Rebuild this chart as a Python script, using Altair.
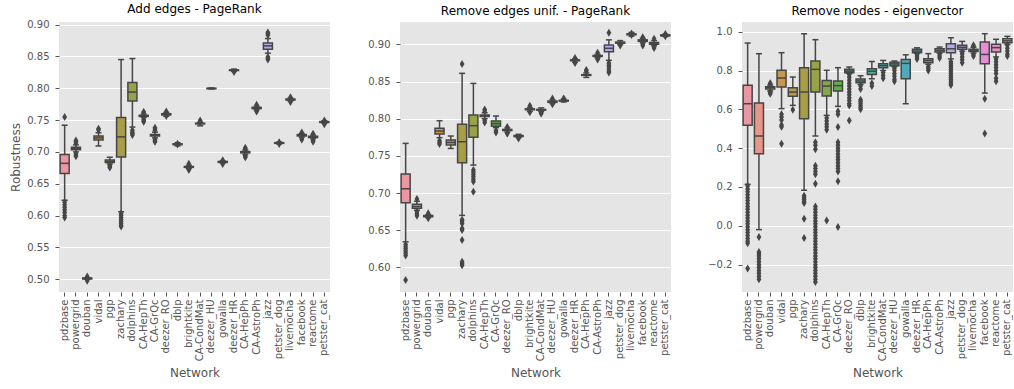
import colorsys
import math

import altair as alt
import pandas as pd

networks = ["pdzbase", "powergrid", "douban", "vidal", "pgp", "zachary", "dolphins",
            "CA-HepTh", "CA-GrQc", "deezer_RO", "dblp", "brightkite", "CA-CondMat",
            "deezer_HU", "gowalla", "deezer_HR", "CA-HepPh", "CA-AstroPh", "jazz",
            "petster_dog", "livemocha", "facebook", "reactome", "petster_cat"]

# ---- Add edges - PageRank: whisker ends, quartiles, median, outliers ----
add_lo = [0.624, 0.700, 0.5000, 0.7094, 0.681, 0.606, 0.739, 0.7540, 0.722, 0.7560, 0.7095, 0.6740,
          0.7410, 0.7988, 0.6825, 0.8265, 0.6960, 0.7660, 0.855, 0.7125, 0.7800, 0.7230, 0.7205, 0.7450]
add_q1 = [0.666, 0.7035, 0.5005, 0.7188, 0.6832, 0.692, 0.780, 0.7558, 0.725, 0.7580, 0.7113, 0.6757,
          0.7440, 0.7993, 0.6835, 0.8278, 0.6985, 0.7680, 0.8613, 0.7135, 0.7815, 0.7250, 0.7225, 0.7463]
add_med = [0.682, 0.7055, 0.5012, 0.722, 0.685, 0.7236, 0.794, 0.7566, 0.7262, 0.7590, 0.7120, 0.6764,
           0.7445, 0.7996, 0.6843, 0.8283, 0.6995, 0.7690, 0.8665, 0.7140, 0.7822, 0.7262, 0.7236, 0.7470]
add_q3 = [0.696, 0.7075, 0.5020, 0.725, 0.6874, 0.754, 0.809, 0.7574, 0.7275, 0.7600, 0.7127, 0.6771,
          0.7450, 0.7999, 0.6850, 0.8288, 0.7005, 0.7700, 0.8712, 0.7145, 0.7830, 0.7272, 0.7245, 0.7477]
add_hi = [0.742, 0.711, 0.5025, 0.730, 0.6916, 0.845, 0.8466, 0.7595, 0.731, 0.7620, 0.7145, 0.6790,
          0.7465, 0.8004, 0.6860, 0.8300, 0.7030, 0.7720, 0.878, 0.7155, 0.7845, 0.7290, 0.7265, 0.7490]
add_out = [
    [0.755, 0.621, 0.617, 0.613, 0.609, 0.605, 0.600, 0.597],
    [0.714, 0.716, 0.718, 0.697, 0.695, 0.693],
    [0.5045, 0.4975],
    [0.7345, 0.7365],
    [0.679, 0.677, 0.6755],
    [0.603, 0.600, 0.597, 0.594, 0.591, 0.588, 0.585, 0.583],
    [0.734, 0.731, 0.729, 0.7265],
    [0.762, 0.7625, 0.751, 0.749, 0.7475],
    [0.734, 0.736, 0.738, 0.719, 0.717, 0.716],
    [0.7635, 0.7565],
    [0.7115, 0.7128],
    [0.6815, 0.6725, 0.672],
    [0.748, 0.7495],
    [],
    [0.687, 0.681],
    [0.8255],
    [0.7045, 0.7065, 0.6945, 0.6925, 0.6915],
    [0.774, 0.7635, 0.765],
    [0.8835, 0.886, 0.8875, 0.849, 0.847, 0.845],
    [0.7125, 0.7152],
    [0.7785, 0.786],
    [0.7305, 0.7195, 0.721],
    [0.7285, 0.718, 0.716],
    [0.7495, 0.7435],
]

# ---- Remove edges unif. - PageRank ----
rem_lo = [0.6345, 0.677, 0.667, 0.7745, 0.760, 0.670, 0.7377, 0.800, 0.788, 0.782, 0.7745, 0.810,
          0.8095, 0.8205, 0.8225, 0.876, 0.8555, 0.882, 0.8785, 0.8995, 0.911, 0.902, 0.898, 0.9105]
rem_q1 = [0.687, 0.6795, 0.6683, 0.7794, 0.7646, 0.7408, 0.7749, 0.803, 0.790, 0.784, 0.776, 0.812,
          0.8115, 0.822, 0.8237, 0.878, 0.8582, 0.8837, 0.890, 0.9015, 0.9128, 0.904, 0.900, 0.9113]
rem_med = [0.7058, 0.682, 0.669, 0.7834, 0.768, 0.769, 0.7906, 0.804, 0.7934, 0.7848, 0.7767, 0.8126,
           0.812, 0.8229, 0.8242, 0.8785, 0.8587, 0.8843, 0.8946, 0.9022, 0.9134, 0.905, 0.9013, 0.912]
rem_q3 = [0.7256, 0.685, 0.6697, 0.787, 0.7713, 0.7924, 0.805, 0.805, 0.7969, 0.7856, 0.7774, 0.8132,
          0.8125, 0.8238, 0.8247, 0.879, 0.8592, 0.885, 0.899, 0.903, 0.914, 0.906, 0.9025, 0.9127]
rem_hi = [0.7668, 0.689, 0.671, 0.7973, 0.7767, 0.861, 0.8475, 0.808, 0.8036, 0.7875, 0.779, 0.815,
          0.8145, 0.8255, 0.826, 0.8805, 0.8615, 0.8865, 0.906, 0.905, 0.916, 0.908, 0.905, 0.9135]
rem_out = [
    [0.631, 0.628, 0.625, 0.622, 0.619, 0.616, 0.583],
    [0.692, 0.675, 0.672, 0.6695],
    [0.673, 0.666],
    [0.7705, 0.768, 0.766],
    [],
    [0.8735, 0.664, 0.662, 0.659, 0.6525, 0.6502, 0.6368, 0.6076, 0.605, 0.6031],
    [0.731, 0.728, 0.725, 0.722, 0.7185, 0.7155, 0.7018],
    [0.8105, 0.8125, 0.7975, 0.795],
    [0.784, 0.7815],
    [0.789, 0.7805, 0.780],
    [0.7735],
    [0.8175, 0.8085],
    [0.8075, 0.807],
    [0.827, 0.8195],
    [0.8265, 0.827],
    [0.8815, 0.8748],
    [0.864, 0.8655],
    [0.8885, 0.8805, 0.8795],
    [0.9155, 0.875, 0.872, 0.8695, 0.866, 0.8635, 0.862],
    [0.8985],
    [0.9145, 0.9125],
    [0.9095, 0.8985, 0.900],
    [0.9075, 0.895, 0.8965],
    [0.914, 0.911],
]

# ---- Remove nodes - eigenvector ----
node_lo = [0.2137, -0.0198, 0.695, 0.6034, 0.6207, 0.183, 0.4627, 0.569, 0.6156, 0.785, 0.728, 0.758,
           0.800, 0.820, 0.629, 0.888, 0.832, 0.890, 0.860, 0.900, 0.890, 0.684, 0.870, 0.935]
node_q1 = [0.5178, 0.3716, 0.705, 0.715, 0.667, 0.5518, 0.689, 0.669, 0.694, 0.789, 0.737, 0.780,
           0.814, 0.825, 0.758, 0.892, 0.840, 0.895, 0.892, 0.909, 0.898, 0.835, 0.895, 0.943]
node_med = [0.629, 0.4627, 0.712, 0.7614, 0.689, 0.689, 0.806, 0.720, 0.722, 0.797, 0.746, 0.796,
            0.825, 0.834, 0.837, 0.900, 0.851, 0.904, 0.912, 0.920, 0.904, 0.883, 0.918, 0.953]
node_q3 = [0.7236, 0.6326, 0.716, 0.801, 0.7116, 0.8146, 0.849, 0.749, 0.746, 0.806, 0.756, 0.809,
           0.835, 0.842, 0.857, 0.909, 0.861, 0.912, 0.938, 0.930, 0.910, 0.947, 0.935, 0.964]
node_hi = [0.9416, 0.8866, 0.725, 0.8918, 0.7665, 0.9897, 0.9588, 0.801, 0.8146, 0.818, 0.773, 0.847,
           0.852, 0.849, 0.881, 0.917, 0.887, 0.921, 0.969, 0.950, 0.920, 0.990, 0.961, 0.976]
node_out = [
    [0.205, 0.19, 0.175, 0.16, 0.145, 0.13, 0.115, 0.10, 0.085, 0.07, 0.055, 0.04, 0.025, 0.01,
     -0.005, -0.02, -0.035, -0.05, -0.065, -0.08, -0.09, -0.22],
    [-0.0575, -0.135, -0.145, -0.155, -0.17, -0.185, -0.20, -0.215, -0.23, -0.245, -0.26, -0.275],
    [0.735, 0.73, 0.69, 0.685, 0.68],
    [0.575, 0.56, 0.545, 0.52, 0.51, 0.423],
    [0.598],
    [0.155, 0.145, 0.135, 0.125, 0.118, 0.0368, -0.0627],
    [0.43, 0.415, 0.395, 0.31, 0.295, 0.28, 0.265, 0.217, 0.10, 0.085, 0.07, 0.055, 0.04, 0.025,
     0.01, -0.005, -0.02, -0.035, -0.05, -0.065, -0.08, -0.095, -0.11, -0.125, -0.14, -0.155,
     -0.17, -0.185, -0.20, -0.215, -0.23, -0.245, -0.26, -0.275, -0.29],
    [0.555, 0.54, 0.525, 0.51, 0.495, 0.028],
    [0.59, 0.575, 0.509, 0.43, 0.415, 0.40, 0.385, 0.37, 0.355, 0.34, 0.325, 0.31, 0.295, 0.28,
     0.229, -0.006],
    [0.78, 0.765, 0.75, 0.735, 0.72, 0.705, 0.69, 0.675, 0.66, 0.645, 0.63, 0.62, 0.543],
    [0.72, 0.705, 0.65, 0.64, 0.63, 0.62, 0.61, 0.60],
    [0.735, 0.72],
    [0.79, 0.775, 0.76],
    [0.812, 0.80, 0.785, 0.77, 0.755, 0.745],
    [],
    [0.88, 0.87, 0.86],
    [0.82, 0.81, 0.80],
    [0.885, 0.875, 0.865],
    [0.845, 0.835, 0.825, 0.815, 0.805, 0.795, 0.785, 0.775, 0.765, 0.755, 0.745, 0.735, 0.725],
    [0.895, 0.885, 0.87, 0.855, 0.84],
    [0.925, 0.93, 0.882, 0.875],
    [0.655, 0.475],
    [0.86, 0.845, 0.83, 0.815, 0.80, 0.785, 0.76, 0.745],
    [0.93, 0.915, 0.90, 0.885, 0.875],
]


# ---- HUSL palette (24 hues, l=.7) desaturated to 75%, plus the framing gray ----
_M = [[3.2406, -1.5372, -0.4986], [-0.9689, 1.8758, 0.0415], [0.0557, -0.2040, 1.0570]]
_REF_U, _REF_V = 0.19784, 0.46834


def _max_chroma(L, H):
    hrad = math.radians(H)
    sin_h, cos_h = math.sin(hrad), math.cos(hrad)
    sub1 = (L + 16) ** 3 / 1560896.0
    sub2 = sub1 if sub1 > 0.008856 else L / 903.3
    result = float("inf")
    for m1, m2, m3 in _M:
        top = (0.99915 * m1 + 1.05122 * m2 + 1.14460 * m3) * sub2
        rbottom = 0.86330 * m3 - 0.17266 * m2
        lbottom = 0.12949 * m3 - 0.38848 * m1
        bottom = (rbottom * sin_h + lbottom * cos_h) * sub2
        for t in (0.0, 1.0):
            c = L * (top - 1.05122 * t) / (bottom + 0.17266 * sin_h * t)
            if 0.0 < c < result:
                result = c
    return result


def _husl_to_rgb(h, s, l):
    c = _max_chroma(l, h) / 100.0 * s
    u, v = math.cos(math.radians(h)) * c, math.sin(math.radians(h)) * c
    t = (l + 16.0) / 116.0
    var_y = t ** 3 if t ** 3 > 0.008856 else (116.0 * t - 16.0) / 903.3
    var_u = u / (13.0 * l) + _REF_U
    var_v = v / (13.0 * l) + _REF_V
    y = var_y
    x = -(9.0 * y * var_u) / ((var_u - 4.0) * var_v - var_u * var_v)
    z = (9.0 * y - 15.0 * var_v * y - var_v * x) / (3.0 * var_v)
    out = []
    for row in _M:
        lin = row[0] * x + row[1] * y + row[2] * z
        val = 12.92 * lin if lin <= 0.0031308 else 1.055 * lin ** (1 / 2.4) - 0.055
        out.append(min(1.0, max(0.0, val)))
    return out


def _hex(rgb):
    return "#" + "".join(f"{int(round(c * 255)):02x}" for c in rgb)


n = len(networks)
palette, lights = [], []
for i in range(n):
    hue = ((i / n) + 0.01) % 1 * 359
    r, g, b = _husl_to_rgb(hue, 0.9 * 99, 0.7 * 99)
    hh, ll, ss = colorsys.rgb_to_hls(r, g, b)
    palette.append(_hex(colorsys.hls_to_rgb(hh, ll, ss * 0.75)))
    lights.append(ll)
lum = min(lights) * 0.6
gray = _hex((lum, lum, lum))

FONT = "DejaVu Sans"
DIAMOND = "M0,-1L0.6,0L0,1L-0.6,0Z"
PANEL_W, PANEL_H = 271, 270


def boxpanel(title, lo, q1, med, q3, hi, outliers, domain, ticks, fmt, ytitle, extent=None):
    stats = pd.DataFrame({"network": networks, "lo": lo, "q1": q1, "med": med, "q3": q3, "hi": hi})
    flier = pd.DataFrame([(nw, v) for nw, vals in zip(networks, outliers) for v in vals],
                         columns=["network", "value"])

    x = alt.X("network:N", sort=networks,
              scale=alt.Scale(domain=networks, paddingInner=0, paddingOuter=0),
              axis=alt.Axis(title="Network", labelAngle=270, labelPadding=3, labelOverlap=False,
                            tickSize=4, grid=False, domain=False, titlePadding=7))
    yargs = dict(values=ticks, format=fmt, grid=True, gridColor="white", gridWidth=1,
                 tickSize=4, labelPadding=6, domain=False, titlePadding=4)
    if extent is not None:
        yargs["minExtent"] = extent
        yargs["maxExtent"] = extent
    yscale = alt.Scale(domain=domain, nice=False, zero=False)

    def y(field):
        return alt.Y(field, scale=yscale, title=ytitle, axis=alt.Axis(**yargs))

    whisker = alt.Chart(stats).mark_rule(color=gray, strokeWidth=1.5).encode(
        x=x, y=y("lo:Q"), y2="hi:Q")
    box = alt.Chart(stats).mark_bar(width={"band": 0.8}, stroke=gray, strokeWidth=1.5).encode(
        x=x, y=y("q1:Q"), y2="q3:Q",
        fill=alt.Fill("network:N", scale=alt.Scale(domain=networks, range=palette), legend=None))
    median = alt.Chart(stats).mark_tick(color=gray, size=9, thickness=1.5, opacity=1).encode(
        x=x, y=y("med:Q"))
    cap_lo = alt.Chart(stats).mark_tick(color=gray, size=6, thickness=1.5, opacity=1).encode(
        x=x, y=y("lo:Q"))
    cap_hi = alt.Chart(stats).mark_tick(color=gray, size=6, thickness=1.5, opacity=1).encode(
        x=x, y=y("hi:Q"))
    fliers = alt.Chart(flier).mark_point(shape=DIAMOND, filled=True, size=64, color=gray,
                                         opacity=1, strokeWidth=0).encode(
        x=x, y=y("value:Q"))

    return alt.layer(whisker, box, median, cap_lo, cap_hi, fliers).properties(
        width=PANEL_W, height=PANEL_H,
        title=alt.TitleParams(title, font=FONT, fontSize=12, fontWeight="normal",
                              color="black", offset=4, anchor="middle"))


p1 = boxpanel("Add edges - PageRank", add_lo, add_q1, add_med, add_q3, add_hi, add_out,
              [0.48, 0.904], [0.50, 0.55, 0.60, 0.65, 0.70, 0.75, 0.80, 0.85, 0.90], ".2f",
              "Robustness")
p2 = boxpanel("Remove edges unif. - PageRank", rem_lo, rem_q1, rem_med, rem_q3, rem_hi, rem_out,
              [0.567, 0.930], [0.60, 0.65, 0.70, 0.75, 0.80, 0.85, 0.90], ".2f", "", extent=34)
p3 = boxpanel("Remove nodes - eigenvector", node_lo, node_q1, node_med, node_q3, node_hi, node_out,
              [-0.341, 1.05], [-0.2, 0.0, 0.2, 0.4, 0.6, 0.8, 1.0], ".1f", "", extent=34)

chart = alt.hconcat(p1, p2, p3, spacing=36).properties(
    padding={"left": 9, "top": 2, "right": 0, "bottom": 0},
    background="white"
).configure_view(
    fill="#E5E5E5", strokeWidth=0
).configure_axis(
    labelFont=FONT, labelFontSize=10, labelColor="#555555",
    titleFont=FONT, titleFontSize=12, titleColor="#555555", titleFontWeight="normal",
    tickColor="#555555", tickWidth=1
)

chart.save("out.html", embed_options={"renderer": "svg", "actions": False})
